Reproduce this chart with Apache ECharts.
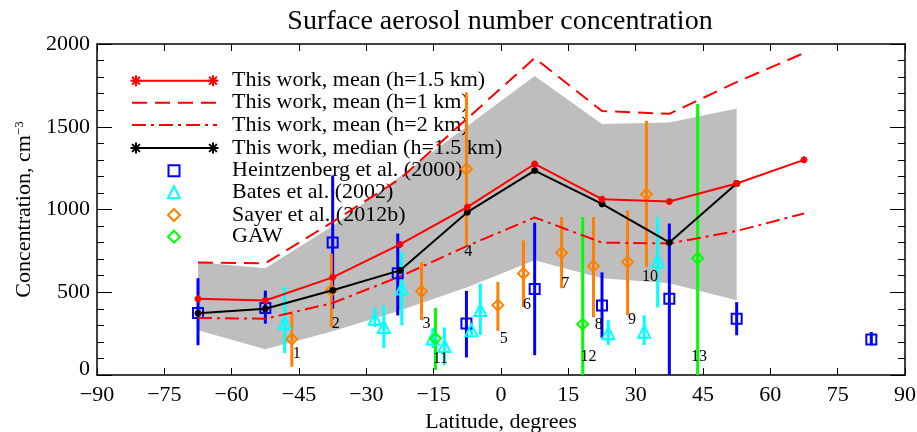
<!DOCTYPE html>
<html><head><meta charset="utf-8">
<script src="https://cdn.jsdelivr.net/npm/echarts@6/dist/echarts.min.js"></script>
<style>html,body{margin:0;padding:0;background:#fff}#c{width:917px;height:432px}</style>
</head><body><div id="c"></div>
<script>
// ---- model (15-degree latitude bins) ----
const binLat    = [-67.5,-52.5,-37.5,-22.5,-7.5,7.5,22.5,37.5,52.5,67.5];
const meanH15   = [460,450,590,789,1014,1275,1062,1048,1157,1300];
const meanH1    = [680,675,925,1185,1550,1915,1595,1578,1770,1945];
const meanH2    = [345,340,435,595,780,952,800,795,870,976];
const medianLat = [-67.5,-52.5,-37.5,-22.5,-7.5,7.5,22.5,37.5,52.5];
const medianH15 = [373,400,512,632,984,1235,1034,801,1157];
const bandLat   = [-67.5,-52.5,-37.5,-22.5,-7.5,7.5,22.5,37.5,52.5];
const bandHigh  = [681,645,900,1200,1505,1807,1516,1525,1610];
const bandLow   = [271,155,265,390,530,693,584,555,452];

// ---- observations ----
const heiLat = [-67.5,-52.5,-37.5,-23.0,-7.7,7.5,22.5,37.5,52.5,82.5];
const heiVal = [375,405,800,615,311,520,420,460,340,215];
const heiLo  = [180,310,400,360,106,120,225,0,240,180];
const heiHi  = [585,510,1205,855,508,920,620,915,440,260];

const batLat = [-48.2,-28.1,-26.1,-22.1,-15.2,-12.6,-6.6,-4.6,23.9,31.9,34.9];
const batVal = [315,340,290,522,221,175,271,392,253,262,688];
const batLo  = [133,290,163,300,163,60,241,241,181,181,408];
const batHi  = [532,410,422,743,283,287,313,552,331,361,954];

const sayLat = [-46.6,-37.8,-17.7,-7.7,-0.7,5.0,13.5,20.6,28.2,32.4];
const sayVal = [217,512,506,1245,422,614,739,658,683,1092];
const sayLo  = [50,291,331,783,267,410,524,349,361,651];
const sayHi  = [372,733,681,1707,562,813,954,954,994,1536];

const gawLat = [-14.6,18.2,43.8];
const gawVal = [221,307,705];
const gawLo  = [30,0,0];
const gawHi  = [405,954,1637];

// ---- site number labels ----
const siteText = ['1','2','3','4','5','6','7','8','9','10','11','12','13'];
const siteLat  = [-45.5,-36.8,-16.6,-7.3,0.6,5.8,14.3,21.8,29.2,33.2,-13.5,19.5,44.1];
const siteVal  = [130,311,311,743,221,422,552,301,331,592,100,110,110];

const legendText = ['This work, mean (h=1.5 km)','This work, mean (h=1 km)','This work, mean (h=2 km)',
  'This work, median (h=1.5 km)','Heintzenberg et al. (2000)','Bates et al. (2002)','Sayer et al. (2012b)','GAW'];

const FONT = '"Liberation Serif", "Times New Roman", serif';
const RED='#ff0000', BLUE='#0000ff', CYAN='#00ffff', ORANGE='#ff8000', GREEN='#00ff00';
const ASTER = 'path://M5,0L5,10M0,5L10,5M1.5,1.5L8.5,8.5M8.5,1.5L1.5,8.5';

function pairs(xs, ys){ return xs.map((x,i)=>[x, ys[i]]); }

function errBars(lat, lo, hi, color){
  return {
    type:'custom', silent:true, z:3, clip:true,
    data: lat.map((x,i)=>[x, lo[i], hi[i]]),
    encode:{x:0, y:[1,2]},
    renderItem(params, api){
      const a = api.coord([api.value(0), api.value(1)]);
      const b = api.coord([api.value(0), api.value(2)]);
      return {type:'line', shape:{x1:a[0],y1:a[1],x2:b[0],y2:b[1]}, style:{stroke:color, lineWidth:3}};
    }
  };
}
function markers(lat, val, symbol, size, color){
  return {
    type:'scatter', silent:true, z:4, symbol, symbolSize:size,
    data: pairs(lat, val),
    itemStyle:{color:'rgba(0,0,0,0)', borderColor:color, borderWidth:2, opacity:1}
  };
}
function modelLine(lat, vals, color, dash, withMarker){
  return {
    type:'line', silent:true, z:6, data: pairs(lat, vals),
    lineStyle:{color, width:2, type: dash || 'solid'},
    symbol: withMarker ? ASTER : 'none', symbolSize:7, showSymbol: !!withMarker,
    itemStyle:{color, borderColor:color, borderWidth:2},
  };
}

// legend drawn as graphic elements
function legendGraphics(){
  const els = [];
  const rowsY = [80.7,102.7,125,148,170.7,192.7,215,236.7];
  const x1=132, x2=217, xs=174, tx=232;
  function aster(cx, cy, r, color){
    const d = r*0.707;
    [[0,-r,0,r],[-r,0,r,0],[-d,-d,d,d],[d,-d,-d,d]].forEach(s=>{
      els.push({type:'line', z:1, silent:true, shape:{x1:cx+s[0],y1:cy+s[1],x2:cx+s[2],y2:cy+s[3]}, style:{stroke:color, lineWidth:2}});
    });
  }
  const lineRows = [[RED,null,true],[RED,[15,8],false],[RED,[14,5,3,5],false],['#000',null,true]];
  lineRows.forEach((r,i)=>{
    const y=rowsY[i];
    els.push({type:'line', z:1, silent:true, shape:{x1:x1,y1:y,x2:x2,y2:y}, style:{stroke:r[0], lineWidth:2, lineDash:r[1]||null}});
    if (r[2]) { aster(x1+4,y,5.5,r[0]); aster(x2-4,y,5.5,r[0]); }
  });
  let y = rowsY[4];
  els.push({type:'rect', z:1, silent:true, shape:{x:xs-5.5,y:y-5.5,width:11,height:11}, style:{fill:'none', stroke:BLUE, lineWidth:2}});
  y = rowsY[5];
  els.push({type:'polygon', z:1, silent:true, shape:{points:[[xs,y-6.5],[xs+6,y+5.5],[xs-6,y+5.5]]}, style:{fill:'none', stroke:CYAN, lineWidth:2}});
  y = rowsY[6];
  els.push({type:'polygon', z:1, silent:true, shape:{points:[[xs,y-6],[xs+6,y],[xs,y+6],[xs-6,y]]}, style:{fill:'none', stroke:ORANGE, lineWidth:2}});
  y = rowsY[7];
  els.push({type:'polygon', z:1, silent:true, shape:{points:[[xs,y-6],[xs+6,y],[xs,y+6],[xs-6,y]]}, style:{fill:'none', stroke:GREEN, lineWidth:2}});
  legendText.forEach((t,i)=>{
    els.push({type:'text', z:2, silent:true, style:{text:t, x:tx, y:rowsY[i], fill:'#000', fontSize:22, fontFamily:FONT, verticalAlign:'middle', align:'left'}});
  });
  return els;
}

const minus = v => String(v).replace('-', '\u2212');
const tickFont = {color:'#000', fontSize:22, fontFamily:FONT};

const chart = echarts.init(document.getElementById('c'), null, {renderer:'canvas'});
chart.setOption({
  animation:false,
  backgroundColor:'#fff',
  title:{text:'Surface aerosol number concentration', left:495, textAlign:'center', top:3,
    textStyle:{color:'#000', fontSize:28, fontWeight:'normal', fontFamily:FONT}},
  grid:{left:97, right:12, top:44, bottom:57, containLabel:false, outerBoundsMode:'none'},
  xAxis:[
    {type:'value', min:-90, max:90, interval:15, position:'bottom',
     axisLine:{show:true, onZero:false, lineStyle:{color:'#000', width:1.5}},
     axisTick:{show:true, inside:true, length:7, lineStyle:{color:'#000'}},
     splitLine:{show:false},
     axisLabel:{...tickFont, margin:9, formatter:minus},
     name:'Latitude, degrees', nameLocation:'middle', nameGap:30,
     nameTextStyle:{color:'#000', fontSize:22, fontFamily:FONT}},
    {type:'value', min:-90, max:90, interval:15, position:'top',
     axisLine:{show:true, onZero:false, lineStyle:{color:'#000', width:1.5}},
     axisTick:{show:true, inside:true, length:7, lineStyle:{color:'#000'}},
     splitLine:{show:false}, axisLabel:{show:false}}
  ],
  yAxis:[
    {type:'value', min:0, max:2000, interval:500, position:'left',
     axisLine:{show:true, onZero:false, lineStyle:{color:'#000', width:1.5}},
     axisTick:{show:true, inside:true, length:15, lineStyle:{color:'#000'}},
     minorTick:{show:true, splitNumber:5, length:7, lineStyle:{color:'#000'}},
     splitLine:{show:false},
     axisLabel:{...tickFont, margin:7,
       formatter: v => v === 0 ? '{z|0}' : String(v),
       rich:{z:{fontSize:22, fontFamily:FONT, color:'#000', padding:[0,0,12,0]}}},
     name:'Concentration, cm{sup|\u22123}', nameLocation:'middle', nameGap:60, nameRotate:90,
     nameTextStyle:{color:'#000', fontSize:22, fontFamily:FONT,
       rich:{sup:{fontSize:13, fontFamily:FONT, color:'#000', verticalAlign:'top', padding:[0,0,10,0]}}}},
    {type:'value', min:0, max:2000, interval:500, position:'right',
     axisLine:{show:true, onZero:false, lineStyle:{color:'#000', width:1.5}},
     axisTick:{show:true, inside:true, length:15, lineStyle:{color:'#000'}},
     minorTick:{show:true, splitNumber:5, length:7, lineStyle:{color:'#000'}},
     splitLine:{show:false}, axisLabel:{show:false}}
  ],
  graphic: legendGraphics(),
  series:[
    {type:'custom', silent:true, z:0,
     data: bandLat.map((x,i)=>[x, bandLow[i], bandHigh[i]]),
     encode:{x:0, y:[1,2]},
     renderItem(params, api){
       if (params.dataIndex !== 0) return null;
       const up = bandLat.map((x,i)=>api.coord([x, bandHigh[i]]));
       const dn = bandLat.map((x,i)=>api.coord([x, bandLow[i]])).reverse();
       return {type:'polygon', shape:{points: up.concat(dn)}, style:{fill:'#bebebe', stroke:'none'}};
     }},
    errBars(heiLat, heiLo, heiHi, BLUE),
    errBars(batLat, batLo, batHi, CYAN),
    errBars(sayLat, sayLo, sayHi, ORANGE),
    errBars(gawLat, gawLo, gawHi, GREEN),
    markers(heiLat, heiVal, 'rect', 10, BLUE),
    markers(batLat, batVal, 'triangle', 12, CYAN),
    markers(sayLat, sayVal, 'diamond', 11, ORANGE),
    markers(gawLat, gawVal, 'diamond', 11, GREEN),
    modelLine(binLat, meanH1, RED, [15,8], false),
    modelLine(binLat, meanH2, RED, [14,5,3,5], false),
    modelLine(medianLat, medianH15, '#000', null, true),
    modelLine(binLat, meanH15, RED, null, true),
    {type:'scatter', silent:true, z:5, symbolSize:0, itemStyle:{opacity:1},
     data: siteLat.map((x,i)=>({value:[x, siteVal[i]], name: siteText[i]})),
     label:{show:true, position:'inside', formatter:'{b}', color:'#000', fontSize:16, fontFamily:FONT}}
  ]
});
</script></body></html>
